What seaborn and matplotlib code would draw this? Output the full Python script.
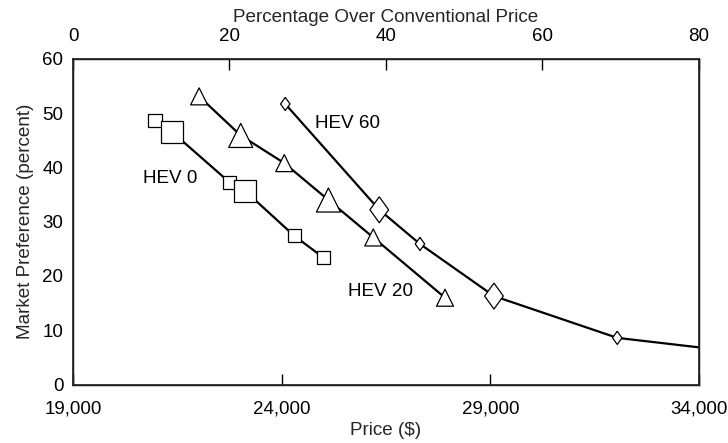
import pandas as pd
import matplotlib
matplotlib.use('Agg')
import matplotlib.pyplot as plt
import seaborn as sns

# ============================================================
# DATA
# ============================================================
HEV0_PRICE = [20965, 21365, 22745, 23121, 24303, 24998]
HEV0_PREF = [48.6, 46.6, 37.3, 35.7, 27.4, 23.4]
HEV0_KIND = ['small', 'big', 'small', 'big', 'small', 'small']

HEV20_PRICE = [22022, 23019, 24063, 25121, 26196, 27915]
HEV20_PREF = [53.1, 45.9, 40.8, 34.0, 27.1, 16.0]
HEV20_KIND = ['small', 'big', 'small', 'big', 'small', 'small']

HEV60_PRICE = [24087, 26340, 27315, 29089, 32043, 34000]
HEV60_PREF = [51.7, 32.2, 25.9, 16.3, 8.6, 6.85]
HEV60_KIND = ['small', 'big', 'small', 'big', 'small', None]  # line runs out to the axis

SERIES = ['HEV 0', 'HEV 20', 'HEV 60']
LABEL_POS = {'HEV 0': (21324, 37.9), 'HEV 20': (26369, 17.1), 'HEV 60': (25578, 48.1)}

PRICE_TICKS = [19000, 24000, 29000, 34000]
PREF_TICKS = [0, 10, 20, 30, 40, 50, 60]
PCT_TICKS = [0, 20, 40, 60, 80]

# ============================================================
# STYLE
# ============================================================
DIAMOND = [(0, 1), (0.72, 0), (0, -1), (-0.72, 0), (0, 1)]
MARKERS = {'HEV 0': 's', 'HEV 20': '^', 'HEV 60': DIAMOND}
SIZES = {
    'HEV 0 small': 88, 'HEV 0 big': 250,
    'HEV 20 small': 150, 'HEV 20 big': 300,
    'HEV 60 small': 90, 'HEV 60 big': 350,
}
TICK_FS = 13.5
LABEL_FS = 13.6


def build_frame():
    rows = []
    for name, px, py, kd in [('HEV 0', HEV0_PRICE, HEV0_PREF, HEV0_KIND),
                             ('HEV 20', HEV20_PRICE, HEV20_PREF, HEV20_KIND),
                             ('HEV 60', HEV60_PRICE, HEV60_PREF, HEV60_KIND)]:
        for x, y, k in zip(px, py, kd):
            rows.append({'series': name, 'price': x, 'pref': y, 'kind': k})
    df = pd.DataFrame(rows)
    df['mk'] = df['series'] + ' ' + df['kind'].fillna('')
    return df


def main():
    sns.set_theme(style="white")
    plt.rcParams['font.family'] = ['Liberation Sans', 'DejaVu Sans']

    df = build_frame()

    fig, ax = plt.subplots(figsize=(7.28, 4.43), dpi=100)
    fig.subplots_adjust(left=0.1003, right=0.960, top=0.867, bottom=0.132)

    # lines
    sns.lineplot(data=df, x='price', y='pref', units='series', estimator=None,
                 sort=False, color='black', linewidth=1.6, ax=ax, zorder=2)

    # hollow markers
    dm = df[df['kind'].notna()]
    sns.scatterplot(data=dm, x='price', y='pref', style='series', markers=MARKERS,
                    size='mk', sizes=SIZES, color='white', edgecolor='black',
                    linewidth=0.9, legend=False, ax=ax, zorder=3)

    for name in SERIES:
        x, y = LABEL_POS[name]
        ax.text(x, y, name, ha='center', va='center', fontsize=13.6, color='black')

    ax.set_xlim(19000, 34000)
    ax.set_ylim(0, 60)
    ax.set_xticks(PRICE_TICKS)
    ax.set_xticklabels([f'{v:,}' for v in PRICE_TICKS])
    ax.set_yticks(PREF_TICKS)
    ax.set_xlabel('Price ($)', fontsize=LABEL_FS, labelpad=3)
    ax.set_ylabel('Market Preference (percent)', fontsize=LABEL_FS, labelpad=6)
    ax.tick_params(axis='both', direction='in', length=8, width=1, colors='black',
                   labelsize=TICK_FS)
    ax.tick_params(axis='x', pad=11.5)
    ax.tick_params(axis='y', pad=7)

    for sp in ax.spines.values():
        sp.set_color('black')
        sp.set_linewidth(1.0)

    ax2 = ax.twiny()
    ax2.set_xlim(0, 80)
    ax2.set_xticks(PCT_TICKS)
    ax2.set_xlabel('Percentage Over Conventional Price', fontsize=LABEL_FS, labelpad=4)
    ax2.tick_params(axis='x', direction='in', length=8, width=1, colors='black',
                    labelsize=TICK_FS, pad=10)
    ax2.grid(False)
    ax.grid(False)

    fig.savefig('out.png', dpi=100)


if __name__ == '__main__':
    main()
